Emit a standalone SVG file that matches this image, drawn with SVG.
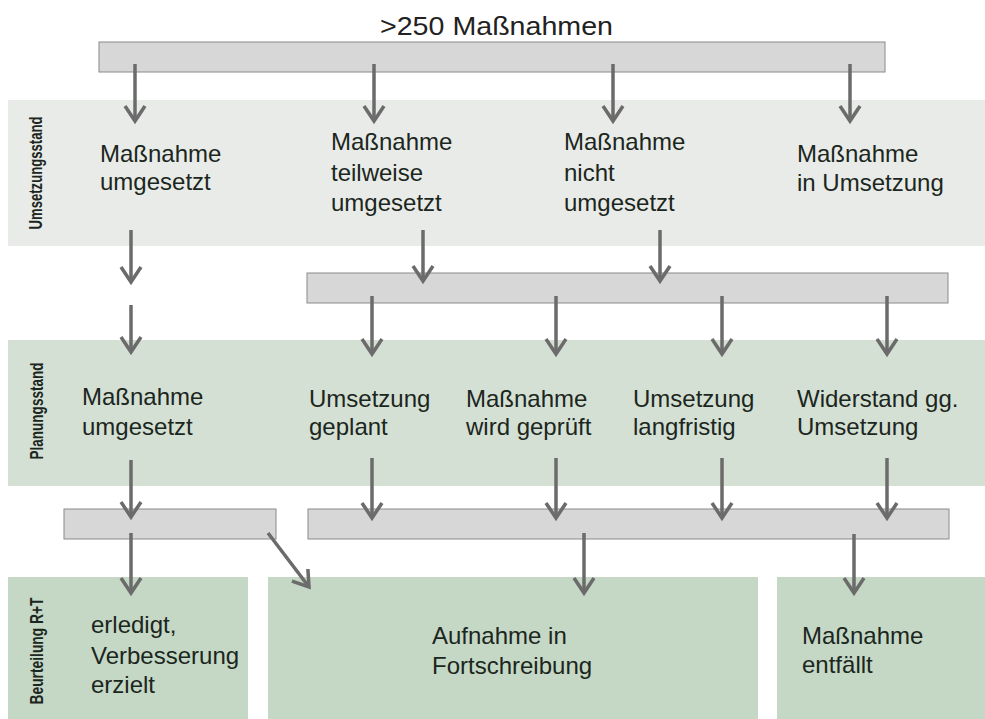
<svg xmlns="http://www.w3.org/2000/svg" width="985" height="719" viewBox="0 0 985 719">
<style>
  .t { font-family: "Liberation Sans", Arial, sans-serif; font-size: 24px; fill: #1c2620; }
  .title { font-family: "Liberation Sans", Arial, sans-serif; font-size: 26px; fill: #222; }
  .side { font-family: "Liberation Sans", Arial, sans-serif; font-size: 18px; font-weight: bold; fill: #1c2620; text-anchor: middle; }
  .bar { fill: #d7d7d7; stroke: #8a8a8a; stroke-width: 1; }
  .band1 { fill: #e8ebe7; }
  .band2 { fill: #d4e0d4; }
  .box { fill: #c5d8c5; }
  .c { stroke: #6b6b6b; stroke-width: 3.5; fill: none; marker-end: url(#ah); }
</style>
<defs>
  <marker id="ah" markerUnits="userSpaceOnUse" viewBox="-18 -13 22 26" refX="0" refY="0" markerWidth="22" markerHeight="26" orient="auto">
    <path d="M-15,-10 L0,0 L-15,10" fill="none" stroke="#6b6b6b" stroke-width="3.5" stroke-linejoin="miter"/>
  </marker>
</defs>
<rect width="985" height="719" fill="#ffffff"/>

<g id="title">
  <text class="title" x="380" y="35" textLength="233" lengthAdjust="spacingAndGlyphs">&gt;250 Maßnahmen</text>
</g>
<g id="bar-top"><rect class="bar" x="99" y="42" width="786" height="30"/></g>

<g id="band-umsetzungsstand">
  <rect class="band1" x="8" y="100" width="977" height="146"/>
  <text class="side" transform="translate(42,173) rotate(-90)" textLength="113" lengthAdjust="spacingAndGlyphs">Umsetzungsstand</text>
</g>
<g id="u1"><text class="t" x="100" y="162">Maßnahme</text><text class="t" x="100" y="190">umgesetzt</text></g>
<g id="u2"><text class="t" x="331" y="150">Maßnahme</text><text class="t" x="331" y="181">teilweise</text><text class="t" x="331" y="211">umgesetzt</text></g>
<g id="u3"><text class="t" x="564" y="150">Maßnahme</text><text class="t" x="564" y="181">nicht</text><text class="t" x="564" y="211">umgesetzt</text></g>
<g id="u4"><text class="t" x="797" y="162">Maßnahme</text><text class="t" x="797" y="191">in Umsetzung</text></g>

<g id="bar-mid"><rect class="bar" x="307" y="273" width="641" height="30"/></g>

<g id="band-planungsstand">
  <rect class="band2" x="8" y="340" width="977" height="146"/>
  <text class="side" transform="translate(43,411) rotate(-90)" textLength="97" lengthAdjust="spacingAndGlyphs">Planungsstand</text>
</g>
<g id="p1"><text class="t" x="82" y="405">Maßnahme</text><text class="t" x="82" y="435">umgesetzt</text></g>
<g id="p2"><text class="t" x="309" y="407">Umsetzung</text><text class="t" x="309" y="435">geplant</text></g>
<g id="p3"><text class="t" x="466" y="407">Maßnahme</text><text class="t" x="466" y="435">wird geprüft</text></g>
<g id="p4"><text class="t" x="633" y="407">Umsetzung</text><text class="t" x="633" y="435">langfristig</text></g>
<g id="p5"><text class="t" x="797" y="407">Widerstand gg.</text><text class="t" x="797" y="435">Umsetzung</text></g>

<g id="bar-low-left"><rect class="bar" x="64" y="509" width="212" height="30"/></g>
<g id="bar-low-right"><rect class="bar" x="308" y="509" width="641" height="30"/></g>

<g id="b1">
  <rect class="box" x="8" y="577" width="240" height="142"/>
  <text class="side" transform="translate(43,651) rotate(-90)" textLength="107" lengthAdjust="spacingAndGlyphs">Beurteilung R+T</text>
  <text class="t" x="91" y="633">erledigt,</text><text class="t" x="91" y="664">Verbesserung</text><text class="t" x="91" y="693">erzielt</text>
</g>
<g id="b2">
  <rect class="box" x="268" y="577" width="490" height="142"/>
  <text class="t" x="432" y="644">Aufnahme in</text><text class="t" x="432" y="674">Fortschreibung</text>
</g>
<g id="b3">
  <rect class="box" x="777" y="577" width="208" height="142"/>
  <text class="t" x="802" y="644">Maßnahme</text><text class="t" x="802" y="673">entfällt</text>
</g>

<g id="connectors">
  <path class="c" d="M135,64 V121"/>
  <path class="c" d="M374,64 V121"/>
  <path class="c" d="M613,64 V121"/>
  <path class="c" d="M850,64 V121"/>
  <path class="c" d="M131,230 V282"/>
  <path class="c" d="M131,305 V352"/>
  <path class="c" d="M423,230 V281"/>
  <path class="c" d="M660,230 V281"/>
  <path class="c" d="M372,296 V354"/>
  <path class="c" d="M556,296 V354"/>
  <path class="c" d="M722,296 V354"/>
  <path class="c" d="M887,296 V354"/>
  <path class="c" d="M131,460 V517"/>
  <path class="c" d="M372,458 V518"/>
  <path class="c" d="M556,458 V518"/>
  <path class="c" d="M722,458 V518"/>
  <path class="c" d="M887,458 V518"/>
  <path class="c" d="M131,533 V593"/>
  <path class="c" d="M268,533 L309,587"/>
  <path class="c" d="M584,533 V593"/>
  <path class="c" d="M854,534 V593"/>
</g>
</svg>
